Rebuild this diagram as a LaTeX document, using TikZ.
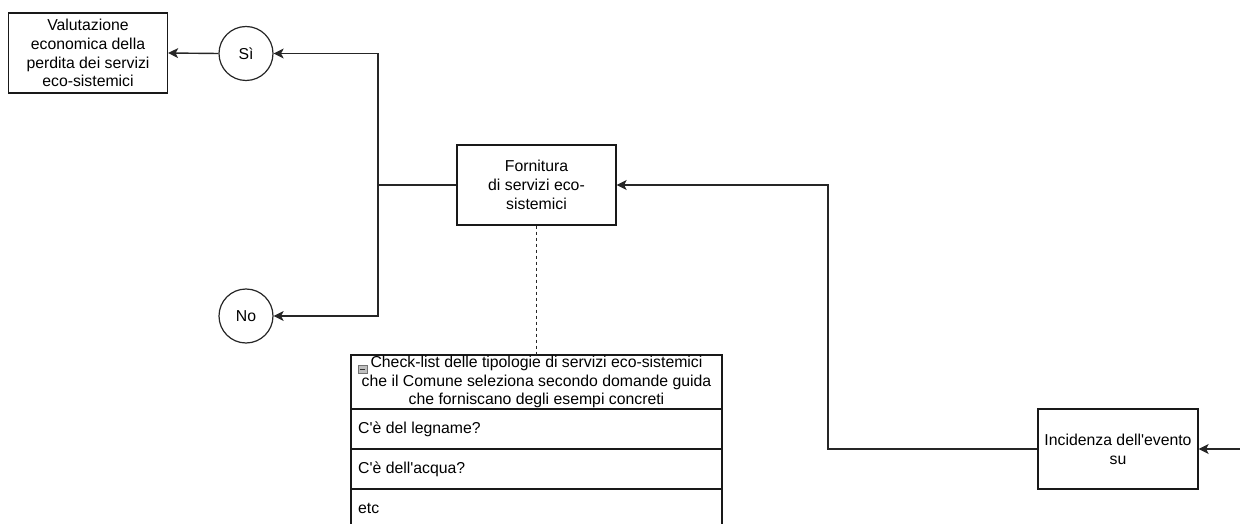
\documentclass[tikz,border=0pt]{standalone}
\usepackage{fontspec}
\setmainfont{Liberation Sans}
\usetikzlibrary{arrows.meta}
\newcommand{\apos}{\textquotesingle}
\begin{document}
\begin{tikzpicture}[x=1pt,y=-1pt,
  txt/.style={font=\fontsize{15.8}{18.8}\selectfont},
  box/.style={txt,draw=black!90,line width=1.3pt,rectangle,inner sep=0pt,
    minimum width=159pt,minimum height=80pt,align=center},
  answer/.style={txt,draw=black!85,line width=1.2pt,circle,inner sep=0pt,minimum size=54pt},
  link/.style={draw=black!85,line width=1.4pt},
  arr/.style={link,-{Stealth[length=10pt,width=10pt,inset=2.5pt]}},
  cell/.style={draw=black!90,line width=1.3pt,fill=white},
  rowtxt/.style={txt,anchor=west,inner sep=0pt}]
\useasboundingbox (0,0) rectangle (1240,524);

% decision boxes and answer circles
\node[box] (val) at (88,53) {Valutazione\\economica della\\perdita dei servizi\\eco-sistemici};
\node[answer] (si) at (246,53.5) {Sì};
\node[answer] (no) at (246,316) {No};
\node[box] (forn) at (536.5,185) {Fornitura\\di servizi eco-\\sistemici};
\node[box,minimum width=160pt] (inc) at (1118,449) {Incidenza dell\apos evento\\su};

% check-list table
\draw[cell] (351,355) rectangle (722,409);
\draw[cell] (351,409) rectangle (722,449);
\draw[cell] (351,449) rectangle (722,489);
\draw[cell] (351,528) -- (351,489) -- (722,489) -- (722,528);
\node[txt,align=center,inner sep=0pt] (hdr) at (536.5,382)
  {Check-list delle tipologie di servizi eco-sistemici\\che il Comune seleziona secondo domande guida\\che forniscano degli esempi concreti};
\coordinate (hdrtop) at (536.5,355);
\node[rowtxt] (r1) at (358,429) {C\apos è del legname?};
\node[rowtxt] (r2) at (358,469) {C\apos è dell\apos acqua?};
\node[rowtxt] (r3) at (358,508) {etc};
% collapse icon
\draw[fill=black!25,draw=black!55,line width=0.6pt] (358,365) rectangle (367,373);
\draw[black!80,line width=0.8pt] (359.8,369.2) -- (365.2,369.2);

% connectors
\coordinate (j1) at (378,185);
\coordinate (bend) at (828,449);
\coordinate (feed) at (1242,449);
\draw[link] (forn.west) -- (j1);
\draw[arr] (j1) |- (si.east);
\draw[arr] (j1) |- (no.east);
\draw[arr] (si.west) -- (val.east);
\draw[arr] (inc.west) -- (bend) |- (forn.east);
\draw[arr] (feed) -- (inc.east);
\draw[black!85,line width=1pt,dash pattern=on 3pt off 3pt] (forn.south) -- (hdrtop);
\end{tikzpicture}
\end{document}
